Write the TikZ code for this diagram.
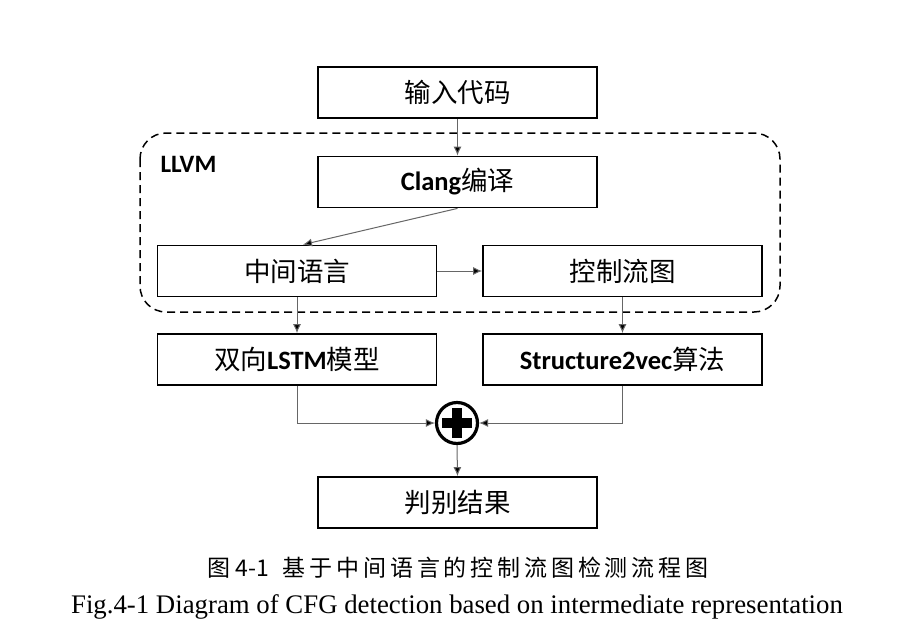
\documentclass[tikz,border=0pt]{standalone}
\usepackage{fontspec}
\setmainfont{Carlito}
\newfontfamily\cjk{Noto Sans CJK SC}
\newfontfamily\capfont{Liberation Serif}
\usetikzlibrary{arrows.meta}
\begin{document}
\begin{tikzpicture}[x=1pt,y=-1pt,
  box/.style={draw=black,line width=1.8pt,minimum width=279pt,minimum height=51pt,inner sep=0pt,font=\fontsize{26.5}{29}\selectfont},
  conn/.style={draw=black!60,line width=1pt,-{Latex[length=9pt,width=8pt,fill=black]}},
  plain/.style={draw=black!60,line width=1pt}]
\useasboundingbox (0,0) rectangle (915,640);
\fill[white] (0,0) rectangle (915,640);
\draw[line width=1.5pt,dash pattern=on 8pt off 5pt,rounded corners=26pt] (140,133) rectangle (780,312);
\node[font=\bfseries\fontsize{25}{27}\selectfont,anchor=west] (llvm) at (157,164) {LLVM};
\node[box] (in) at (457.5,92.5) {\cjk 输入代码};
\node[box] (clang) at (457.5,182) {\bfseries Clang\mdseries\cjk 编译};
\node[box] (ir) at (297,271) {\cjk 中间语言};
\node[box] (cfg) at (622.5,271) {\cjk 控制流图};
\node[box] (lstm) at (297,359.5) {\cjk 双向\normalfont\bfseries LSTM\mdseries\cjk 模型};
\node[box] (s2v) at (622.5,359.5) {\bfseries Structure2vec\mdseries\cjk 算法};
\node[circle,draw=black,line width=3.2pt,minimum size=41pt,inner sep=0pt] (plus) at (457,423) {};
\fill[black] (442,417.5) rectangle (472,427.5);
\fill[black] (452,407.5) rectangle (462,437.5);
\node[box] (res) at (457.5,502.5) {\cjk 判别结果};
\draw[conn] (in.south) -- (clang.north);
\draw[conn] (clang.south) -- ([xshift=6pt]ir.north);
\draw[conn] (ir.east) -- (cfg.west);
\draw[conn] (ir.south) -- (lstm.north);
\draw[conn] (cfg.south) -- (s2v.north);
\draw[conn] (lstm.south) |- (plus.west);
\draw[conn] (s2v.south) |- (plus.east);
\draw[conn] (plus.south) -- (res.north);
\node[font=\cjk\fontsize{23}{26}\selectfont] (cap1) at (458,568) {图 4-1\hspace{0.6em}基\,于\,中\,间\,语\,言\,的\,控\,制\,流\,图\,检\,测\,流\,程\,图};
\node[font=\capfont\fontsize{26.8}{30}\selectfont] (cap2) at (457,607) {Fig.4-1 Diagram of CFG detection based on intermediate representation};
\end{tikzpicture}
\end{document}
